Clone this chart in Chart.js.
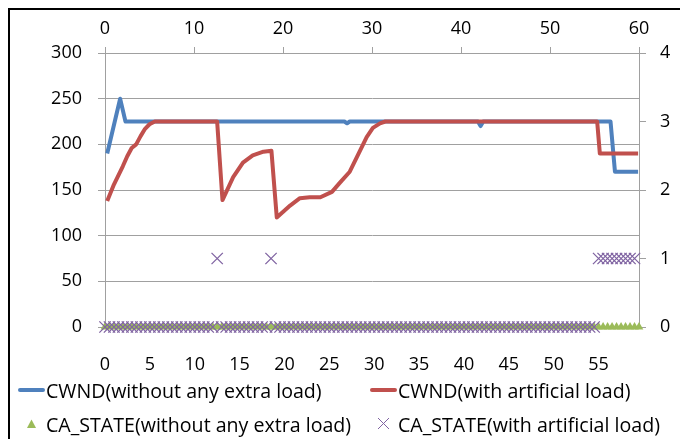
<!DOCTYPE html>
<html>
<head>
<meta charset="utf-8">
<title>CWND / CA_STATE</title>
<script src="https://cdn.jsdelivr.net/npm/chart.js@4.4.0/dist/chart.umd.min.js"></script>
<style>
    html, body { margin: 0; padding: 0; background: #fff; }
    .chart-wrap { position: relative; width: 680px; height: 439px; overflow: hidden; font-family: "Open Sans", sans-serif; }
    .chart-wrap canvas { position: absolute; left: 0; top: 0; }
    .frame { position: absolute; left: 8px; top: 8px; width: 700px; height: 460px; border-left: 2px solid #000; border-top: 2px solid #000; pointer-events: none; }
    .legend { position: absolute; left: 18px; top: 373px; display: grid; grid-template-columns: 352px auto; grid-auto-rows: 34px; font-size: 19.6px; color: #000; }
    .legend-item { display: flex; align-items: center; white-space: nowrap; }
    .legend-item svg { flex: 0 0 27px; margin-right: 1px; }
</style>
</head>
<body>
<div class="chart-wrap">
    <canvas id="cwndChart" width="680" height="439"></canvas>
    <div class="frame"></div>
    <div class="legend" id="cwndLegend"></div>
</div>
<script>
// Series names (legend order)
const seriesNames = [
    'CWND(without any extra load)',
    'CWND(with artificial load)',
    'CA_STATE(without any extra load)',
    'CA_STATE(with artificial load)'
];

// CWND curves, plotted against the top time axis (0-60) and left axis (0-300)
const cwndTimesNoLoad = [0.25, 1.7, 2.3, 26.9, 27.2, 27.5, 41.9, 42.2, 42.5, 56.8, 57.3, 59.9];
const cwndNoLoad      = [190, 250, 225, 225, 223, 225, 225, 220, 225, 225, 170, 170];

const cwndTimesLoad = [0.25, 1, 2, 2.5, 3, 3.5, 4, 4.5, 5, 5.6, 12.6, 13.2, 14.4, 15.5, 16.6, 17.8, 18.7,
                       19.3, 20.8, 21.9, 23, 24.2, 25.5, 26.4, 27.5, 28.7, 29.4, 30.1, 30.9, 31.5, 55.3, 55.6, 59.9];
const cwndLoad      = [138, 156, 176, 187, 196, 200, 209, 217, 222, 225, 225, 139, 164, 180, 188, 192, 193,
                       120, 133, 141, 142, 142, 148, 158, 170, 194, 208, 218, 223, 225, 225, 190, 190];

// CA_STATE samples, bottom axis (one sample every 0.5) and right axis (0-4)
const stateTimes = [
    0, 0.5, 1, 1.5, 2, 2.5, 3, 3.5, 4, 4.5, 5, 5.5, 6, 6.5, 7, 7.5, 8, 8.5, 9, 9.5,
    10, 10.5, 11, 11.5, 12, 12.5, 13, 13.5, 14, 14.5, 15, 15.5, 16, 16.5, 17, 17.5, 18, 18.5, 19, 19.5,
    20, 20.5, 21, 21.5, 22, 22.5, 23, 23.5, 24, 24.5, 25, 25.5, 26, 26.5, 27, 27.5, 28, 28.5, 29, 29.5,
    30, 30.5, 31, 31.5, 32, 32.5, 33, 33.5, 34, 34.5, 35, 35.5, 36, 36.5, 37, 37.5, 38, 38.5, 39, 39.5,
    40, 40.5, 41, 41.5, 42, 42.5, 43, 43.5, 44, 44.5, 45, 45.5, 46, 46.5, 47, 47.5, 48, 48.5, 49, 49.5,
    50, 50.5, 51, 51.5, 52, 52.5, 53, 53.5, 54, 54.5, 55, 55.5, 56, 56.5, 57, 57.5, 58, 58.5, 59, 59.5
];
const caStateNoLoad = [
    0, 0, 0, 0, 0, 0, 0, 0, 0, 0, 0, 0, 0, 0, 0, 0, 0, 0, 0, 0,
    0, 0, 0, 0, 0, 0, 0, 0, 0, 0, 0, 0, 0, 0, 0, 0, 0, 0, 0, 0,
    0, 0, 0, 0, 0, 0, 0, 0, 0, 0, 0, 0, 0, 0, 0, 0, 0, 0, 0, 0,
    0, 0, 0, 0, 0, 0, 0, 0, 0, 0, 0, 0, 0, 0, 0, 0, 0, 0, 0, 0,
    0, 0, 0, 0, 0, 0, 0, 0, 0, 0, 0, 0, 0, 0, 0, 0, 0, 0, 0, 0,
    0, 0, 0, 0, 0, 0, 0, 0, 0, 0, 0, 0, 0, 0, 0, 0, 0, 0, 0, 0
];
const caStateLoad = [
    0, 0, 0, 0, 0, 0, 0, 0, 0, 0, 0, 0, 0, 0, 0, 0, 0, 0, 0, 0,
    0, 0, 0, 0, 0, 1, 0, 0, 0, 0, 0, 0, 0, 0, 0, 0, 0, 1, 0, 0,
    0, 0, 0, 0, 0, 0, 0, 0, 0, 0, 0, 0, 0, 0, 0, 0, 0, 0, 0, 0,
    0, 0, 0, 0, 0, 0, 0, 0, 0, 0, 0, 0, 0, 0, 0, 0, 0, 0, 0, 0,
    0, 0, 0, 0, 0, 0, 0, 0, 0, 0, 0, 0, 0, 0, 0, 0, 0, 0, 0, 0,
    0, 0, 0, 0, 0, 0, 0, 0, 0, 0, 1, 1, 1, 1, 1, 1, 1, 1, 1
];

const topTicks = { min: 0, max: 60, step: 10 };
const bottomTicks = { min: 0, max: 59.5, step: 5 };
const leftTicks = { min: 0, max: 300, step: 50 };
const rightTicks = { min: 0, max: 4, step: 1 };

const colors = ['#4F81BD', '#C0504D', '#9BBB59', '#8064A2'];

document.addEventListener('DOMContentLoaded', function() {
    const GRID = '#a0a0a0';

    Chart.defaults.font.family = '"Open Sans", sans-serif';
    Chart.defaults.font.size = 18;
    Chart.defaults.color = '#000';

    /**
     * Datasets
     * ======================================================================== */
    function toPoints(xs, ys) {
        return ys.map((y, i) => ({ x: xs[i], y: y }));
    }

    const datasets = [
        {
            label: seriesNames[0],
            data: toPoints(cwndTimesNoLoad, cwndNoLoad),
            xAxisID: 'xTop', yAxisID: 'y',
            borderColor: colors[0], borderWidth: 4,
            borderJoinStyle: 'round', pointRadius: 0, tension: 0, order: 4
        },
        {
            label: seriesNames[1],
            data: toPoints(cwndTimesLoad, cwndLoad),
            xAxisID: 'xTop', yAxisID: 'y',
            borderColor: colors[1], borderWidth: 4,
            borderJoinStyle: 'round', pointRadius: 0, tension: 0, order: 3
        },
        {
            label: seriesNames[2],
            data: toPoints(stateTimes, caStateNoLoad),
            xAxisID: 'x', yAxisID: 'y2',
            showLine: false, clip: false,
            pointStyle: 'triangle', pointRadius: 5,
            pointBackgroundColor: colors[2], pointBorderColor: colors[2], pointBorderWidth: 0,
            order: 2
        },
        {
            label: seriesNames[3],
            data: toPoints(stateTimes, caStateLoad),
            xAxisID: 'x', yAxisID: 'y2',
            showLine: false, clip: false,
            pointStyle: 'crossRot', pointRadius: 8,
            pointBorderColor: colors[3], pointBorderWidth: 1.3,
            order: 1
        }
    ];

    /**
     * Chart
     * ======================================================================== */
    new Chart(document.getElementById('cwndChart'), {
        type: 'line',
        data: { datasets: datasets },
        options: {
            responsive: false,
            animation: false,
            devicePixelRatio: 1,
            layout: { padding: 0 },
            plugins: { legend: { display: false }, tooltip: { enabled: false } },
            scales: {
                xTop: {
                    type: 'linear', position: 'top',
                    min: topTicks.min, max: topTicks.max,
                    ticks: { stepSize: topTicks.step, padding: 7, maxRotation: 0 },
                    grid: { drawOnChartArea: false, tickLength: 6, color: GRID },
                    border: { display: true, color: GRID },
                    afterFit: s => { s.height = 53; }
                },
                x: {
                    type: 'linear', position: 'bottom',
                    min: bottomTicks.min, max: bottomTicks.max,
                    ticks: { stepSize: bottomTicks.step, includeBounds: false, padding: 19, maxRotation: 0, autoSkip: false },
                    grid: { display: false },
                    border: { display: false },
                    afterFit: s => { s.height = 112; }
                },
                y: {
                    position: 'left',
                    min: leftTicks.min, max: leftTicks.max,
                    ticks: { stepSize: leftTicks.step, padding: 16 },
                    grid: { color: GRID, tickLength: 7 },
                    border: { display: true, color: GRID },
                    afterFit: s => { s.width = 105; }
                },
                y2: {
                    position: 'right',
                    min: rightTicks.min, max: rightTicks.max,
                    ticks: { stepSize: rightTicks.step, padding: 14 },
                    grid: { drawOnChartArea: false, color: GRID, tickLength: 7 },
                    border: { display: true, color: GRID },
                    afterFit: s => { s.width = 41; }
                }
            }
        }
    });

    /**
     * Legend (two-column grid like the original)
     * ======================================================================== */
    function swatch(i) {
        const c = colors[i];
        if (i < 2) {
            return '<svg width="27" height="14"><line x1="2" y1="7" x2="25" y2="7" stroke="' + c + '" stroke-width="4" stroke-linecap="round"/></svg>';
        }
        if (i === 2) {
            return '<svg width="27" height="14"><polygon points="13.5,2.5 18,11 9,11" fill="' + c + '"/></svg>';
        }
        return '<svg width="27" height="14"><path d="M8 1 L19 12 M19 1 L8 12" stroke="' + c + '" stroke-width="1" fill="none"/></svg>';
    }

    const legend = document.getElementById('cwndLegend');
    legend.innerHTML = seriesNames.map((name, i) =>
        '<div class="legend-item">' + swatch(i) + '<span>' + name + '</span></div>'
    ).join('');
});
</script>
</body>
</html>
